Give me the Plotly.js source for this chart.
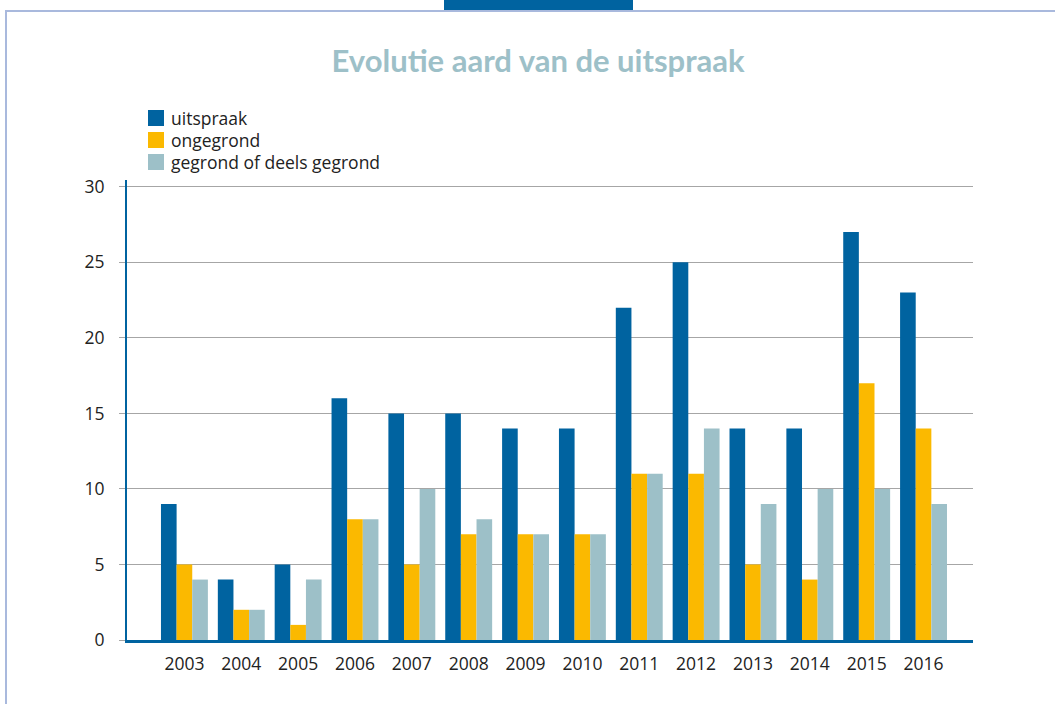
<!DOCTYPE html>
<html>
<head>
<meta charset="utf-8">
<script src="https://cdn.plot.ly/plotly-3.0.1.min.js"></script>
<style>
html,body{margin:0;padding:0;background:#fff;}
#wrap{position:relative;width:1055px;height:704px;overflow:hidden;}
#frame{position:absolute;left:5px;top:10px;width:1060px;height:700px;border-top:2px solid #a9b9dd;border-left:2px solid #a9b9dd;}
#tab{position:absolute;left:444px;top:0;width:189px;height:10px;background:#0063a0;}
#chart{position:absolute;left:0;top:0;width:1055px;height:704px;}
</style>
</head>
<body>
<div id="wrap">
<div id="frame"></div>
<div id="tab"></div>
<div id="chart"></div>
</div>
<script>
const years = ['2003','2004','2005','2006','2007','2008','2009','2010','2011','2012','2013','2014','2015','2016'];
const uitspraak = [9,4,5,16,15,15,14,14,22,25,14,14,27,23];
const ongegrond = [5,2,1,8,5,7,7,7,11,11,5,4,17,14];
const gegrond = [4,2,4,8,10,8,7,7,11,14,9,10,10,9];
const seriesNames = ['uitspraak','ongegrond','gegrond of deels gegrond'];
const colors = ['#0063a0','#fbb900','#9dc0c8'];
const yTicks = [0,5,10,15,20,25,30];

const data = [uitspraak, ongegrond, gegrond].map((vals,i)=>({
  type:'bar', x:years, y:vals, name:seriesNames[i],
  marker:{color:colors[i], line:{width:0}}, hoverinfo:'x+y', showlegend:false
}));

// custom legend (pixel geometry converted to paper coords)
const L = 127, W = 846, B = 640, H = 460;
const px = v => (v - L) / W;
const py = v => (B - v) / H;
const shapes = [], annotations = [];
seriesNames.forEach((n,i)=>{
  const cy = 118 + 22*i;
  shapes.push({type:'rect', xref:'paper', yref:'paper', x0:px(148), x1:px(164), y0:py(cy+8), y1:py(cy-8),
    fillcolor:colors[i], line:{width:0}});
  annotations.push({xref:'paper', yref:'paper', x:px(169), y:py(cy), xanchor:'left', yanchor:'middle',
    text:n, showarrow:false, font:{size:17.5, color:'#222'}});
});

const layout = {
  width:1055, height:704,
  paper_bgcolor:'rgba(0,0,0,0)', plot_bgcolor:'rgba(0,0,0,0)',
  font:{family:'"Open Sans", sans-serif', size:17.5, color:'#222'},
  margin:{l:127, r:82, t:180, b:64},
  title:{text:'<b>Evolutie aard van de uitspraak</b>', x:0.51, xanchor:'center', y:0.913, yanchor:'middle',
    font:{family:'Lato, "Open Sans", sans-serif', size:31, color:'#9dc0c8'}},
  barmode:'group', bargap:0.175, bargroupgap:0,
  showlegend:false,
  shapes:shapes, annotations:annotations,
  xaxis:{type:'category', range:[-1.01,13.87], showgrid:false, showline:true, linecolor:'#0063a0', linewidth:3,
    ticks:'', ticklabelstandoff:6, tickfont:{size:17.5, color:'#222'}, fixedrange:true, zeroline:false},
  yaxis:{range:[0,30.45], tickvals:yTicks, ticktext:yTicks.map(String), showgrid:true, gridcolor:'#a6a6a6', gridwidth:1,
    showline:true, linecolor:'#0063a0', linewidth:2, ticks:'outside', ticklen:6, tickcolor:'#a6a6a6',
    ticklabelstandoff:11, tickfont:{size:17.5, color:'#222'}, zeroline:false, fixedrange:true}
};

Plotly.newPlot('chart', data, layout, {displayModeBar:false});
</script>
</body>
</html>
